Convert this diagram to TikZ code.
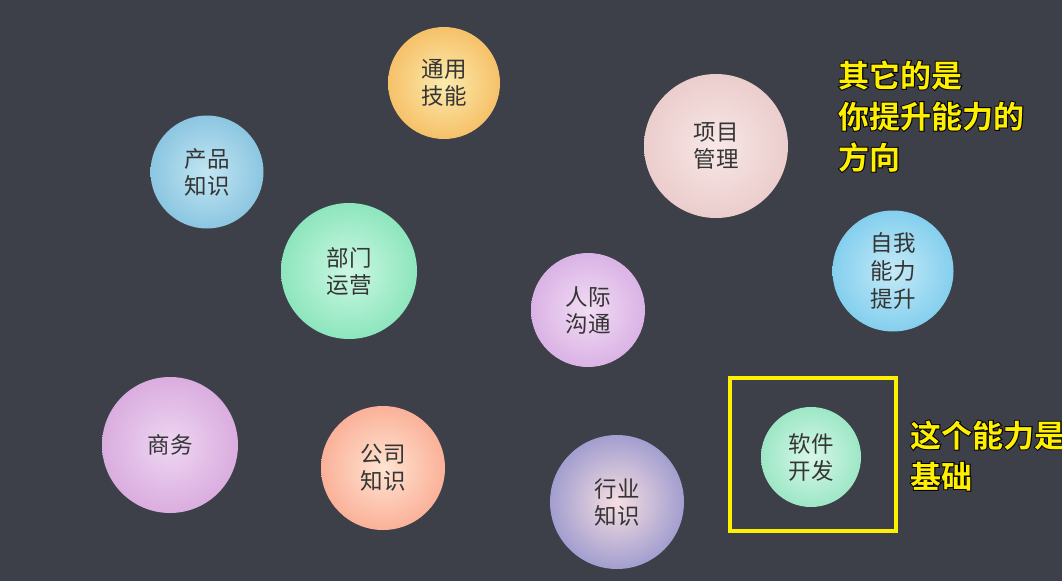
\documentclass[tikz,border=0pt]{standalone}
\usepackage{fontspec}
\newfontfamily\cjk{Noto Sans CJK SC}
\newfontfamily\cjkb{Noto Sans CJK SC Bold}
\newfontfamily\cjkbo[FakeBold=6]{Noto Sans CJK SC Bold}
\makeatletter
\pgfdeclareradialshading[tikz@radial@inner,tikz@radial@outer]{ballshade}{\pgfpointorigin}{color(0bp)=(tikz@radial@inner); color(50bp)=(tikz@radial@outer)}
\makeatother
\definecolor{bg}{HTML}{3D4049}
\definecolor{txt}{HTML}{353535}
\definecolor{yel}{HTML}{FFF000}
\definecolor{aI}{HTML}{FBEBAE}\definecolor{aO}{HTML}{F6C169}
\definecolor{bI}{HTML}{F7E8E7}\definecolor{bO}{HTML}{EBCDCC}
\definecolor{cI}{HTML}{C2E6F2}\definecolor{cO}{HTML}{8CC6E1}
\definecolor{dI}{HTML}{CCF7E3}\definecolor{dO}{HTML}{8DE6BD}
\definecolor{eI}{HTML}{F2DCF4}\definecolor{eO}{HTML}{DAB3E5}
\definecolor{fI}{HTML}{C4EAF7}\definecolor{fO}{HTML}{84CFEE}
\definecolor{gI}{HTML}{EED6F2}\definecolor{gO}{HTML}{DAADDF}
\definecolor{hI}{HTML}{FEE4D2}\definecolor{hO}{HTML}{FBB199}
\definecolor{iI}{HTML}{F6DEE1}\definecolor{iO}{HTML}{A29ECF}
\definecolor{jI}{HTML}{D8F7E9}\definecolor{jO}{HTML}{9DE7C6}
\tikzset{
  ball/.style={circle, draw=none, inner sep=0pt, minimum size=#1, align=center,
    shading=ballshade, font=\cjk\fontsize{22.5}{27}\selectfont, text=txt},
  ylab/.style={anchor=base west, inner sep=0pt, align=left, font=\cjkb\fontsize{31}{41}\selectfont, text=yel},
  ylabo/.style={anchor=base west, inner sep=0pt, align=left, font=\cjkbo\fontsize{31}{41}\selectfont, text=black},
  ybox/.style={draw=yel, line width=4pt}
}
\begin{document}
\begin{tikzpicture}[x=1pt,y=-1pt]
\fill[bg] (0,0) rectangle (1062,581);
\useasboundingbox (0,0) rectangle (1062,581);
\node[ball=112, inner color=aI, outer color=aO] (tyjn) at (444,83) {通用\\技能};
\node[ball=144, inner color=bI, outer color=bO] (xmgl) at (716,146) {项目\\管理};
\node[ball=113, inner color=cI, outer color=cO] (cpzs) at (207,172) {产品\\知识};
\node[ball=136, inner color=dI, outer color=dO] (bmyy) at (349,271) {部门\\运营};
\node[ball=114, inner color=eI, outer color=eO] (rjgt) at (588,310) {人际\\沟通};
\node[ball=121, inner color=fI, outer color=fO, font=\cjk\fontsize{22.5}{28}\selectfont] (zwnl) at (893,271) {自我\\能力\\提升};
\node[ball=136, inner color=gI, outer color=gO] (sw) at (170,445) {商务};
\node[ball=124, inner color=hI, outer color=hO] (gszs) at (383,468) {公司\\知识};
\node[ball=134, inner color=iI, outer color=iO] (hyzs) at (617,502) {行业\\知识};
\node[ball=100, inner color=jI, outer color=jO] (rjkf) at (811,457) {软件\\开发};
\node[ybox, minimum width=166, minimum height=153, inner sep=0pt] (box) at (813,454.5) {};
\node[ylabo] (t1o) at (838,169) {其它的是\\你提升能力的\\方向};
\node[ylab] (t1) at (838,169) {其它的是\\你提升能力的\\方向};
\node[ylabo] (t2o) at (910,488) {这个能力是\\基础};
\node[ylab] (t2) at (910,488) {这个能力是\\基础};
\end{tikzpicture}
\end{document}
